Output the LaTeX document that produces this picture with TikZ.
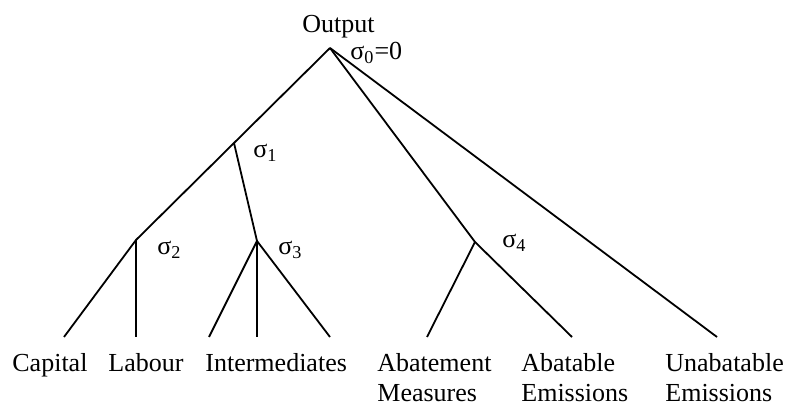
\documentclass[tikz,border=0pt]{standalone}
\usepackage{fontspec}
\setmainfont{Liberation Serif}
\usetikzlibrary{positioning}

\begin{document}
\begin{tikzpicture}[
    x=0.5pt, y=-0.5pt,
    branch/.style={line width=0.9pt, draw=black},
    leaf/.style={inner sep=0pt, anchor=base west, align=left, font=\fontsize{13}{15}\selectfont},
    elast/.style={inner sep=0pt, anchor=base west, font=\fontsize{13}{15}\selectfont}
  ]
  \useasboundingbox (0,0) rectangle (787,405);

  % nests
  \coordinate (output) at (330,48);
  \coordinate (nest1) at (234,143);
  \coordinate (nest2) at (136,240);
  \coordinate (nest3) at (257,241);
  \coordinate (nest4) at (475,242);

  % leaf ends
  \coordinate (capital) at (64,337);
  \coordinate (labour) at (136,337);
  \coordinate (interA) at (209,337);
  \coordinate (interB) at (257,337);
  \coordinate (interC) at (330,337);
  \coordinate (abatement) at (427,337);
  \coordinate (abatable) at (572,337);
  \coordinate (unabatable) at (717,337);

  % texts
  \node[elast] (outtxt) at (302,33) {Output};
  \node[elast] (sig0) at (350,60) {σ\textsubscript{0}=0};
  \node[elast] (sig1) at (253,158) {σ\textsubscript{1}};
  \node[elast] (sig2) at (157,255) {σ\textsubscript{2}};
  \node[elast] (sig3) at (278,255) {σ\textsubscript{3}};
  \node[elast] (sig4) at (502,248) {σ\textsubscript{4}};

  % one-line labels sit on the first baseline, two-line ones on the second
  \node[leaf] (capitaltxt) at (12,372) {Capital};
  \node[leaf] (labourtxt) at (108,372) {Labour};
  \node[leaf] (intertxt) at (205,372) {Intermediates};
  \node[leaf] (abatementtxt) at (377,402) {Abatement\\Measures};
  \node[leaf] (abatabletxt) at (521,402) {Abatable\\Emissions};
  \node[leaf] (unabatabletxt) at (665,402) {Unabatable\\Emissions};

  % branches
  \draw[branch] (output) -- (nest1) -- (nest2) -- (capital);
  \draw[branch] (nest2) -- (labour);
  \draw[branch] (nest1) -- (nest3);
  \draw[branch] (nest3) -- (interA);
  \draw[branch] (nest3) -- (interB);
  \draw[branch] (nest3) -- (interC);
  \draw[branch] (output) -- (nest4) -- (abatable);
  \draw[branch] (nest4) -- (abatement);
  \draw[branch] (output) -- (unabatable);
\end{tikzpicture}
\end{document}
